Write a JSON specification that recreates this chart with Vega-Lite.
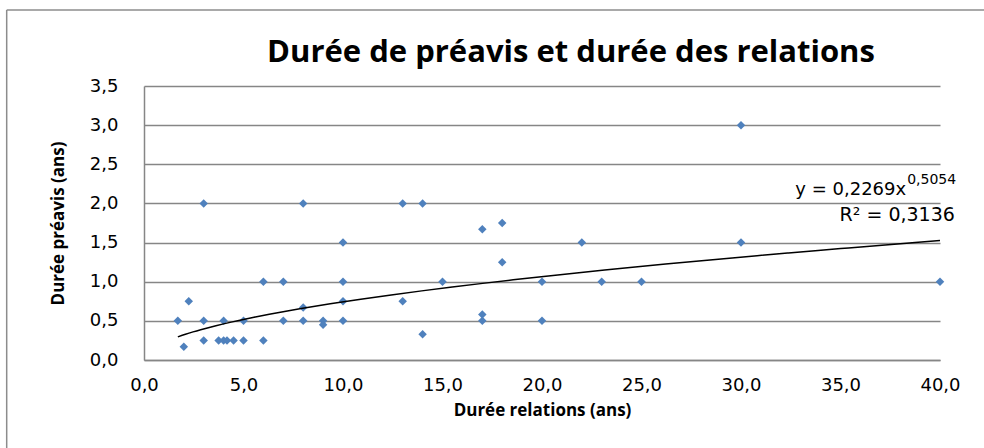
{
  "$schema": "https://vega.github.io/schema/vega-lite/v6.json",
  "width": 796,
  "height": 274,
  "autosize": {"type": "none"},
  "padding": {"left": 144, "top": 86, "right": 44, "bottom": 88},
  "background": "white",
  "config": {
    "locale": {"number": {"decimal": ",", "thousands": " ", "grouping": [3], "currency": ["", " €"]}},
    "view": {"stroke": null},
    "axis": {
      "ticks": false,
      "domainColor": "#868686",
      "domainWidth": 1.5,
      "labelFont": "DejaVu Sans",
      "labelFontSize": 18,
      "labelColor": "#000000",
      "labelFlush": false,
      "labelOverlap": false,
      "titleFont": "Open Sans",
      "titleFontSize": 17,
      "titleFontWeight": "bold",
      "titleColor": "#000000"
    },
    "axisX": {"grid": false, "labelPadding": 16, "titlePadding": 8},
    "axisY": {"grid": true, "gridColor": "#868686", "gridWidth": 1.5, "labelPadding": 26, "titlePadding": 22}
  },
  "title": {
    "text": "Durée de préavis et durée des relations",
    "font": "Open Sans",
    "fontSize": 31,
    "fontWeight": "bold",
    "color": "#000000",
    "anchor": "middle",
    "dx": 29,
    "offset": -60
  },
  "data": {
    "values": [
      {"relations": 1.7, "preavis": 0.5},
      {"relations": 2, "preavis": 0.17},
      {"relations": 2.25, "preavis": 0.75},
      {"relations": 3, "preavis": 2.0},
      {"relations": 3, "preavis": 0.5},
      {"relations": 3, "preavis": 0.25},
      {"relations": 3.75, "preavis": 0.25},
      {"relations": 4, "preavis": 0.25},
      {"relations": 4.17, "preavis": 0.25},
      {"relations": 4, "preavis": 0.5},
      {"relations": 4.5, "preavis": 0.25},
      {"relations": 5, "preavis": 0.25},
      {"relations": 5, "preavis": 0.5},
      {"relations": 6, "preavis": 0.25},
      {"relations": 6, "preavis": 1.0},
      {"relations": 7, "preavis": 1.0},
      {"relations": 7, "preavis": 0.5},
      {"relations": 8, "preavis": 2.0},
      {"relations": 8, "preavis": 0.67},
      {"relations": 8, "preavis": 0.5},
      {"relations": 9, "preavis": 0.5},
      {"relations": 9, "preavis": 0.45},
      {"relations": 10, "preavis": 1.5},
      {"relations": 10, "preavis": 1.0},
      {"relations": 10, "preavis": 0.75},
      {"relations": 10, "preavis": 0.5},
      {"relations": 13, "preavis": 2.0},
      {"relations": 13, "preavis": 0.75},
      {"relations": 14, "preavis": 2.0},
      {"relations": 14, "preavis": 0.33},
      {"relations": 15, "preavis": 1.0},
      {"relations": 17, "preavis": 1.67},
      {"relations": 17, "preavis": 0.58},
      {"relations": 17, "preavis": 0.5},
      {"relations": 18, "preavis": 1.75},
      {"relations": 18, "preavis": 1.25},
      {"relations": 20, "preavis": 1.0},
      {"relations": 20, "preavis": 0.5},
      {"relations": 22, "preavis": 1.5},
      {"relations": 23, "preavis": 1.0},
      {"relations": 25, "preavis": 1.0},
      {"relations": 30, "preavis": 3.0},
      {"relations": 30, "preavis": 1.5},
      {"relations": 40, "preavis": 1.0}
    ]
  },
  "layer": [
    {
      "mark": {"type": "point", "shape": "diamond", "filled": true, "size": 72, "color": "#4f81bd", "opacity": 1},
      "encoding": {
        "x": {"field": "relations", "type": "quantitative", "scale": {"domain": [0, 40]},
          "axis": {"title": "Durée relations (ans)", "values": [0, 5, 10, 15, 20, 25, 30, 35, 40], "format": ".1f"}},
        "y": {"field": "preavis", "type": "quantitative", "scale": {"domain": [0, 3.5]},
          "axis": {"title": "Durée préavis (ans)", "values": [0, 0.5, 1, 1.5, 2, 2.5, 3, 3.5], "format": ".1f"}}
      }
    },
    {
      "data": {"values": [{}]},
      "mark": {"type": "rule", "stroke": "#8c8c8c", "strokeWidth": 1.5},
      "encoding": {
        "x": {"datum": -6.9, "type": "quantitative",
          "axis": {"title": "Durée relations (ans)", "values": [0, 5, 10, 15, 20, 25, 30, 35, 40], "format": ".1f"}},
        "x2": {"datum": 44.5},
        "y": {"datum": 4.47, "type": "quantitative",
          "axis": {"title": "Durée préavis (ans)", "values": [0, 0.5, 1, 1.5, 2, 2.5, 3, 3.5], "format": ".1f"}}
      }
    },
    {
      "data": {"values": [{}]},
      "mark": {"type": "rule", "stroke": "#8c8c8c", "strokeWidth": 1.5},
      "encoding": {
        "x": {"datum": -6.9, "type": "quantitative",
          "axis": {"title": "Durée relations (ans)", "values": [0, 5, 10, 15, 20, 25, 30, 35, 40], "format": ".1f"}},
        "y": {"datum": 4.47, "type": "quantitative",
          "axis": {"title": "Durée préavis (ans)", "values": [0, 0.5, 1, 1.5, 2, 2.5, 3, 3.5], "format": ".1f"}},
        "y2": {"datum": -1.5}
      }
    },
    {
      "transform": [{"regression": "preavis", "on": "relations", "method": "pow"}],
      "mark": {"type": "line", "color": "#000000", "strokeWidth": 1.5, "interpolate": "monotone"},
      "encoding": {
        "x": {"field": "relations", "type": "quantitative",
          "axis": {"title": "Durée relations (ans)", "values": [0, 5, 10, 15, 20, 25, 30, 35, 40], "format": ".1f"}},
        "y": {"field": "preavis", "type": "quantitative",
          "axis": {"title": "Durée préavis (ans)", "values": [0, 0.5, 1, 1.5, 2, 2.5, 3, 3.5], "format": ".1f"}}
      }
    },
    {
      "data": {"values": [{}]},
      "mark": {"type": "text", "text": "y = 0,2269x", "font": "DejaVu Sans", "fontSize": 18, "align": "right", "baseline": "middle", "color": "#000000"},
      "encoding": {
        "x": {"datum": 38.3, "type": "quantitative",
          "axis": {"title": "Durée relations (ans)", "values": [0, 5, 10, 15, 20, 25, 30, 35, 40], "format": ".1f"}},
        "y": {"datum": 2.17, "type": "quantitative",
          "axis": {"title": "Durée préavis (ans)", "values": [0, 0.5, 1, 1.5, 2, 2.5, 3, 3.5], "format": ".1f"}}
      }
    },
    {
      "data": {"values": [{}]},
      "mark": {"type": "text", "text": "0,5054", "font": "DejaVu Sans", "fontSize": 14, "align": "left", "baseline": "middle", "color": "#000000"},
      "encoding": {
        "x": {"datum": 38.35, "type": "quantitative",
          "axis": {"title": "Durée relations (ans)", "values": [0, 5, 10, 15, 20, 25, 30, 35, 40], "format": ".1f"}},
        "y": {"datum": 2.3, "type": "quantitative",
          "axis": {"title": "Durée préavis (ans)", "values": [0, 0.5, 1, 1.5, 2, 2.5, 3, 3.5], "format": ".1f"}}
      }
    },
    {
      "data": {"values": [{}]},
      "mark": {"type": "text", "text": "R² = 0,3136", "font": "DejaVu Sans", "fontSize": 19, "align": "center", "baseline": "middle", "color": "#000000"},
      "encoding": {
        "x": {"datum": 37.85, "type": "quantitative",
          "axis": {"title": "Durée relations (ans)", "values": [0, 5, 10, 15, 20, 25, 30, 35, 40], "format": ".1f"}},
        "y": {"datum": 1.85, "type": "quantitative",
          "axis": {"title": "Durée préavis (ans)", "values": [0, 0.5, 1, 1.5, 2, 2.5, 3, 3.5], "format": ".1f"}}
      }
    }
  ]
}
